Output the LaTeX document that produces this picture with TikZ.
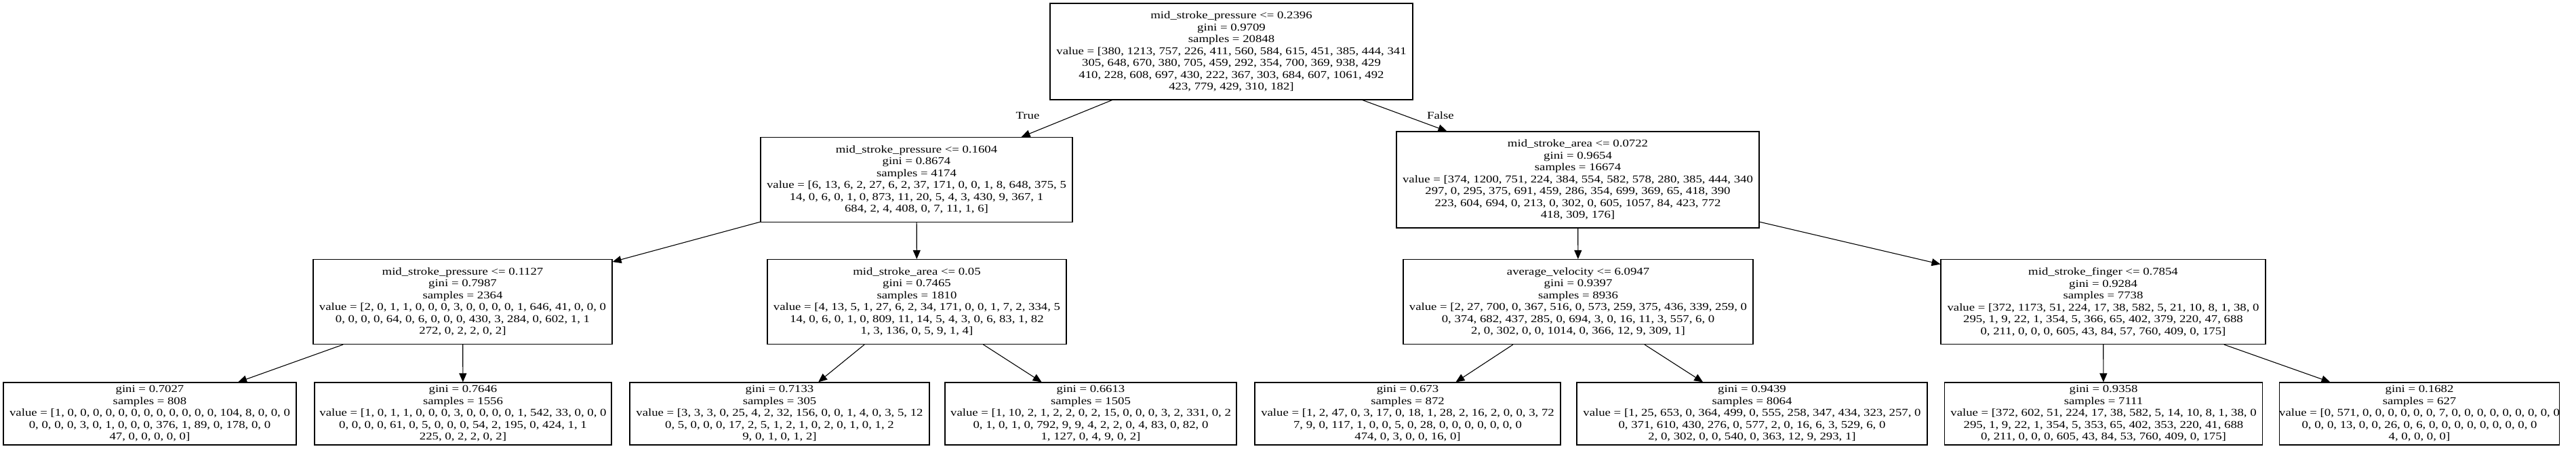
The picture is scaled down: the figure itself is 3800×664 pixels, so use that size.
\documentclass[tikz,border=0pt]{standalone}
\usepackage{fontspec}
\setmainfont{Liberation Serif}[FakeStretch=1.21]
\usetikzlibrary{arrows.meta}
\begin{document}
\begin{tikzpicture}[x=1pt,y=-1pt,
  box/.style={draw, line width=1.1pt, rectangle, align=center, inner sep=0pt, font=\fontsize{15.5}{17.5}\selectfont},
  heighteight/.style={minimum height=142pt},
  heightseven/.style={minimum height=125pt},
  heightfive/.style={minimum height=92pt},
  conn/.style={line width=1.1pt, -{Triangle[length=13pt,width=11pt]}},
  lbl/.style={font=\fontsize{15.5}{17.5}\selectfont, inner sep=0pt}]
\useasboundingbox (0,0) rectangle (3800,664);
% root
\node[box,heighteight,minimum width=535pt] (root) at (1816.5,76) {mid\_stroke\_pressure <= 0.2396\\gini = 0.9709\\samples = 20848\\value = [380, 1213, 757, 226, 411, 560, 584, 615, 451, 385, 444, 341\\305, 648, 670, 380, 705, 459, 292, 354, 700, 369, 938, 429\\410, 228, 608, 697, 430, 222, 367, 303, 684, 607, 1061, 492\\423, 779, 429, 310, 182]};
% level 1
\node[box,heightseven,minimum width=460pt] (lone) at (1352,265) {mid\_stroke\_pressure <= 0.1604\\gini = 0.8674\\samples = 4174\\value = [6, 13, 6, 2, 27, 6, 2, 37, 171, 0, 0, 1, 8, 648, 375, 5\\14, 0, 6, 0, 1, 0, 873, 11, 20, 5, 4, 3, 430, 9, 367, 1\\684, 2, 4, 408, 0, 7, 11, 1, 6]};
\node[box,heighteight,minimum width=535pt] (rone) at (2327.5,265) {mid\_stroke\_area <= 0.0722\\gini = 0.9654\\samples = 16674\\value = [374, 1200, 751, 224, 384, 554, 582, 578, 280, 385, 444, 340\\297, 0, 295, 375, 691, 459, 286, 354, 699, 369, 65, 418, 390\\223, 604, 694, 0, 213, 0, 302, 0, 605, 1057, 84, 423, 772\\418, 309, 176]};
% level 2
\node[box,heightseven,minimum width=441pt] (ntwoa) at (682.5,445) {mid\_stroke\_pressure <= 0.1127\\gini = 0.7987\\samples = 2364\\value = [2, 0, 1, 1, 0, 0, 0, 3, 0, 0, 0, 0, 1, 646, 41, 0, 0, 0\\0, 0, 0, 0, 64, 0, 6, 0, 0, 0, 430, 3, 284, 0, 602, 1, 1\\272, 0, 2, 2, 0, 2]};
\node[box,heightseven,minimum width=441pt] (ntwob) at (1352.5,445) {mid\_stroke\_area <= 0.05\\gini = 0.7465\\samples = 1810\\value = [4, 13, 5, 1, 27, 6, 2, 34, 171, 0, 0, 1, 7, 2, 334, 5\\14, 0, 6, 0, 1, 0, 809, 11, 14, 5, 4, 3, 0, 6, 83, 1, 82\\1, 3, 136, 0, 5, 9, 1, 4]};
\node[box,heightseven,minimum width=516pt] (ntwoc) at (2328,445) {average\_velocity <= 6.0947\\gini = 0.9397\\samples = 8936\\value = [2, 27, 700, 0, 367, 516, 0, 573, 259, 375, 436, 339, 259, 0\\0, 374, 682, 437, 285, 0, 694, 3, 0, 16, 11, 3, 557, 6, 0\\2, 0, 302, 0, 0, 1014, 0, 366, 12, 9, 309, 1]};
\node[box,heightseven,minimum width=479pt] (ntwod) at (3102.5,445) {mid\_stroke\_finger <= 0.7854\\gini = 0.9284\\samples = 7738\\value = [372, 1173, 51, 224, 17, 38, 582, 5, 21, 10, 8, 1, 38, 0\\295, 1, 9, 22, 1, 354, 5, 366, 65, 402, 379, 220, 47, 688\\0, 211, 0, 0, 0, 605, 43, 84, 57, 760, 409, 0, 175]};
% leaves
\node[box,heightfive,minimum width=432pt] (leafa) at (221,610) {gini = 0.7027\\samples = 808\\value = [1, 0, 0, 0, 0, 0, 0, 0, 0, 0, 0, 0, 0, 104, 8, 0, 0, 0\\0, 0, 0, 0, 3, 0, 1, 0, 0, 0, 376, 1, 89, 0, 178, 0, 0\\47, 0, 0, 0, 0, 0]};
\node[box,heightfive,minimum width=438pt] (leafb) at (683,610) {gini = 0.7646\\samples = 1556\\value = [1, 0, 1, 1, 0, 0, 0, 3, 0, 0, 0, 0, 1, 542, 33, 0, 0, 0\\0, 0, 0, 0, 61, 0, 5, 0, 0, 0, 54, 2, 195, 0, 424, 1, 1\\225, 0, 2, 2, 0, 2]};
\node[box,heightfive,minimum width=442pt] (leafc) at (1150,610) {gini = 0.7133\\samples = 305\\value = [3, 3, 3, 0, 25, 4, 2, 32, 156, 0, 0, 1, 4, 0, 3, 5, 12\\0, 5, 0, 0, 0, 17, 2, 5, 1, 2, 1, 0, 2, 0, 1, 0, 1, 2\\9, 0, 1, 0, 1, 2]};
\node[box,heightfive,minimum width=430pt] (leafd) at (1609,610) {gini = 0.6613\\samples = 1505\\value = [1, 10, 2, 1, 2, 2, 0, 2, 15, 0, 0, 0, 3, 2, 331, 0, 2\\0, 1, 0, 1, 0, 792, 9, 9, 4, 2, 2, 0, 4, 83, 0, 82, 0\\1, 127, 0, 4, 9, 0, 2]};
\node[box,heightfive,minimum width=451pt] (leafe) at (2076.5,610) {gini = 0.673\\samples = 872\\value = [1, 2, 47, 0, 3, 17, 0, 18, 1, 28, 2, 16, 2, 0, 0, 3, 72\\7, 9, 0, 117, 1, 0, 0, 5, 0, 28, 0, 0, 0, 0, 0, 0, 0\\474, 0, 3, 0, 0, 16, 0]};
\node[box,heightfive,minimum width=517pt] (leaff) at (2584.5,610) {gini = 0.9439\\samples = 8064\\value = [1, 25, 653, 0, 364, 499, 0, 555, 258, 347, 434, 323, 257, 0\\0, 371, 610, 430, 276, 0, 577, 2, 0, 16, 6, 3, 529, 6, 0\\2, 0, 302, 0, 0, 540, 0, 363, 12, 9, 293, 1]};
\node[box,heightfive,minimum width=469pt] (leafg) at (3103,610) {gini = 0.9358\\samples = 7111\\value = [372, 602, 51, 224, 17, 38, 582, 5, 14, 10, 8, 1, 38, 0\\295, 1, 9, 22, 1, 354, 5, 353, 65, 402, 353, 220, 41, 688\\0, 211, 0, 0, 0, 605, 43, 84, 53, 760, 409, 0, 175]};
\node[box,heightfive,minimum width=412pt] (leafh) at (3569,610) {gini = 0.1682\\samples = 627\\value = [0, 571, 0, 0, 0, 0, 0, 0, 7, 0, 0, 0, 0, 0, 0, 0, 0, 0\\0, 0, 0, 13, 0, 0, 26, 0, 6, 0, 0, 0, 0, 0, 0, 0, 0, 0\\4, 0, 0, 0, 0]};
% edges
\draw[conn] (root) -- (lone);
\draw[conn] (root) -- (rone);
\node[lbl] (truelbl) at (1516,170) {True};
\node[lbl] (falselbl) at (2125,170) {False};
\draw[conn] (lone) -- (ntwoa);
\draw[conn] (lone) -- (ntwob);
\draw[conn] (rone) -- (ntwoc);
\draw[conn] (rone) -- (ntwod);
\draw[conn] (ntwoa) -- (leafa);
\draw[conn] (ntwoa) -- (leafb);
\draw[conn] (ntwob) -- (leafc);
\draw[conn] (ntwob) -- (leafd);
\draw[conn] (ntwoc) -- (leafe);
\draw[conn] (ntwoc) -- (leaff);
\draw[conn] (ntwod) -- (leafg);
\draw[conn] (ntwod) -- (leafh);
\end{tikzpicture}
\end{document}
